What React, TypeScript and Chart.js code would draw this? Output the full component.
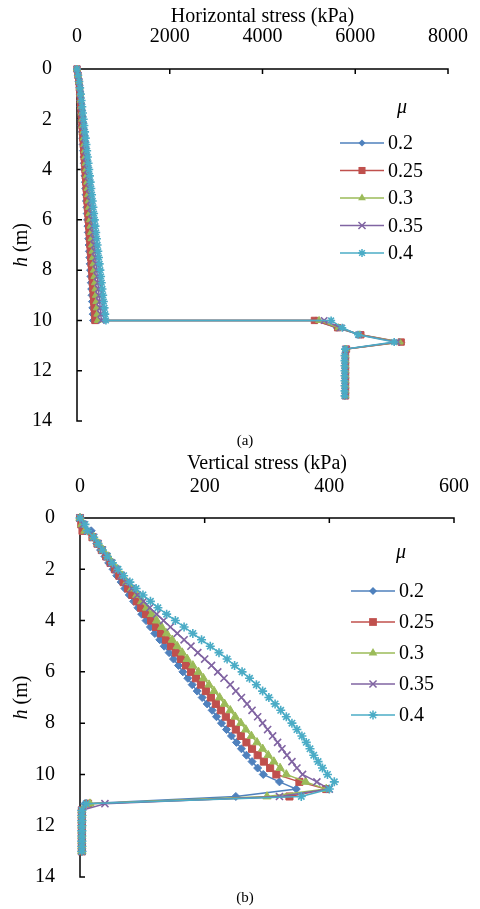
import React, { useEffect, useRef } from 'react';
import { Chart, registerables } from 'chart.js';

Chart.register(...registerables);

const FONT = "'Liberation Serif', 'Times New Roman', serif";

const seriesLabels = ['0.2', '0.25', '0.3', '0.35', '0.4'];
const seriesColors = ['#4F81BD', '#C0504D', '#9BBB59', '#8064A2', '#4BACC6'];
const seriesPointStyles = ['rectRot', 'rect', 'triangle', 'crossRot', 'star'];

// depth h (m)
const depthMain = [0, 0.25, 0.5, 0.75, 1, 1.25, 1.5, 1.75, 2, 2.25, 2.5, 2.75, 3, 3.25, 3.5, 3.75, 4, 4.25, 4.5, 4.75, 5, 5.25, 5.5, 5.75, 6, 6.25, 6.5, 6.75, 7, 7.25, 7.5, 7.75, 8, 8.25, 8.5, 8.75, 9, 9.25, 9.5, 9.75, 10];
const depthJump = [10];
const depthTail = [10.29, 10.57, 10.86, 11.14, 11.4, 11.6, 11.8, 12, 12.2, 12.4, 12.6, 12.8, 13];

// axis ticks
const horizTicks = [0, 2000, 4000, 6000, 8000];
const vertTicks = [0, 200, 400, 600];
const depthTicks = [0, 2, 4, 6, 8, 10, 12, 14];

// Horizontal stress (kPa), h = 0..10
const horizMain02 = [0, 18, 35, 48, 58, 66, 74, 82, 90, 98, 106, 114, 122, 130, 138, 146, 154, 162, 170, 178, 186, 194, 202, 210, 218, 226, 234, 242, 250, 258, 266, 274, 282, 290, 298, 306, 314, 322, 330, 338, 346];
const horizMain025 = [0, 20, 38, 52, 63, 72, 81, 90, 99, 108, 117, 126, 135, 144, 153, 162, 171, 180, 189, 198, 207, 216, 225, 234, 243, 252, 261, 270, 279, 288, 297, 306, 315, 324, 333, 342, 351, 360, 369, 378, 387];
const horizMain03 = [0, 22, 42, 57, 69, 80, 90, 101, 111, 122, 132, 143, 153, 164, 174, 185, 195, 206, 216, 227, 237, 248, 258, 269, 279, 290, 300, 311, 321, 332, 342, 353, 363, 374, 384, 395, 405, 416, 426, 437, 447];
const horizMain035 = [0, 24, 46, 62, 76, 88, 101, 113, 126, 138, 151, 163, 176, 188, 201, 213, 226, 238, 251, 263, 276, 288, 301, 313, 326, 338, 351, 363, 376, 388, 401, 413, 426, 438, 451, 463, 476, 488, 501, 513, 526];
const horizMain04 = [0, 26, 50, 68, 84, 99, 114, 129, 144, 159, 174, 189, 204, 219, 234, 249, 264, 279, 294, 309, 324, 339, 354, 369, 384, 399, 414, 429, 444, 459, 474, 489, 504, 519, 534, 549, 564, 579, 594, 609, 624];
// jump at h = 10, then tail
const horizTail02 = [5150, 5600, 6100, 6950, 5800, 5780, 5780, 5780, 5780, 5780, 5780, 5780, 5780, 5780];
const horizTail025 = [5120, 5620, 6120, 6990, 5810, 5790, 5790, 5790, 5790, 5790, 5790, 5790, 5790, 5790];
const horizTail03 = [5220, 5640, 6100, 6960, 5800, 5790, 5790, 5790, 5790, 5790, 5790, 5790, 5790, 5790];
const horizTail035 = [5330, 5680, 6080, 6900, 5790, 5780, 5780, 5780, 5780, 5780, 5780, 5780, 5780, 5780];
const horizTail04 = [5480, 5720, 6060, 6840, 5780, 5770, 5770, 5770, 5770, 5770, 5770, 5770, 5770, 5770];

// Vertical stress (kPa), h = 0..10
const vertMain02 = [0, 6, 18, 21, 27, 33, 40, 46, 53, 59, 66, 72, 79, 86, 93, 99, 106, 113, 120, 128, 135, 143, 150, 158, 165, 173, 180, 188, 196, 204, 212, 219, 227, 235, 243, 251, 259, 267, 276, 285, 294];
const vertMain025 = [0, 2, 4, 20, 28, 35, 42, 49, 56, 63, 70, 77, 84, 91, 98, 106, 114, 122, 130, 138, 146, 154, 162, 170, 178, 186, 194, 202, 210, 218, 226, 234, 242, 250, 258, 267, 276, 285, 295, 305, 315];
const vertMain03 = [0, 3, 8, 22, 30, 37, 45, 52, 60, 68, 75, 83, 91, 99, 107, 115, 123, 131, 139, 148, 156, 164, 172, 181, 190, 198, 207, 215, 224, 232, 241, 249, 258, 266, 275, 284, 293, 302, 311, 321, 331];
const vertMain035 = [0, 5, 12, 22, 29, 36, 43, 50, 58, 66, 74, 83, 92, 102, 112, 123, 134, 145, 156, 167, 178, 189, 200, 211, 221, 231, 241, 250, 259, 268, 276, 285, 293, 301, 309, 317, 324, 332, 340, 348, 357];
const vertMain04 = [0, 8, 12, 22, 29, 36, 44, 52, 61, 70, 80, 90, 101, 113, 125, 139, 153, 167, 181, 195, 209, 223, 236, 248, 260, 272, 283, 293, 303, 313, 322, 331, 340, 348, 356, 363, 369, 375, 382, 389, 397];
const vertTail02 = [320, 347, 250, 8, 3, 3, 3, 3, 3, 3, 3, 3, 3];
const vertTail025 = [352, 395, 336, 13, 3, 3, 3, 3, 3, 3, 3, 3, 3];
const vertTail03 = [362, 395, 300, 16, 3, 3, 3, 3, 3, 3, 3, 3, 3];
const vertTail035 = [380, 400, 320, 40, 3, 3, 3, 3, 3, 3, 3, 3, 3];
const vertTail04 = [408, 400, 355, 10, 3, 3, 3, 3, 3, 3, 3, 3, 3];

const horizDepth = [...depthMain, ...depthJump, ...depthTail];
const vertDepth = [...depthMain, ...depthTail];
const horizSeries = [
  [...horizMain02, ...horizTail02],
  [...horizMain025, ...horizTail025],
  [...horizMain03, ...horizTail03],
  [...horizMain035, ...horizTail035],
  [...horizMain04, ...horizTail04],
];
const vertSeries = [
  [...vertMain02, ...vertTail02],
  [...vertMain025, ...vertTail025],
  [...vertMain03, ...vertTail03],
  [...vertMain035, ...vertTail035],
  [...vertMain04, ...vertTail04],
];

function drawMarker(ctx: CanvasRenderingContext2D, style: string, x: number, y: number, r: number, color: string) {
  ctx.save();
  ctx.fillStyle = color;
  ctx.strokeStyle = color;
  ctx.lineWidth = 1.5;
  ctx.beginPath();
  if (style === 'rectRot') {
    ctx.moveTo(x, y - r); ctx.lineTo(x + r, y); ctx.lineTo(x, y + r); ctx.lineTo(x - r, y); ctx.closePath();
    ctx.fill();
  } else if (style === 'rect') {
    const s = r * Math.SQRT1_2;
    ctx.rect(x - s, y - s, 2 * s, 2 * s);
    ctx.fill();
  } else if (style === 'triangle') {
    const w = r * Math.sin(Math.PI / 3);
    ctx.moveTo(x, y - r); ctx.lineTo(x + w, y + r / 2); ctx.lineTo(x - w, y + r / 2); ctx.closePath();
    ctx.fill();
  } else if (style === 'crossRot') {
    const s = r * Math.SQRT1_2;
    ctx.moveTo(x - s, y - s); ctx.lineTo(x + s, y + s);
    ctx.moveTo(x + s, y - s); ctx.lineTo(x - s, y + s);
    ctx.stroke();
  } else if (style === 'star') {
    const s = r * Math.SQRT1_2;
    ctx.moveTo(x - s, y - s); ctx.lineTo(x + s, y + s);
    ctx.moveTo(x + s, y - s); ctx.lineTo(x - s, y + s);
    ctx.moveTo(x, y - r); ctx.lineTo(x, y + r);
    ctx.moveTo(x - r, y); ctx.lineTo(x + r, y);
    ctx.stroke();
  }
  ctx.restore();
}

type PanelCfg = {
  title: string;
  xMax: number;
  xStep: number;
  depth: number[];
  series: number[][];
  height: number;
  yWidth: number;
  xHeight: number;
  padRight: number;
  padBottom: number;
  titlePadTop: number;
  xTickPad: number;
  yTickPad: number;
  radii: number[];
  legend: { lineX0: number; lineX1: number; textX: number; muY: number; muX: number; rows: number[]; radii: number[] };
  tag: string;
  tagY: number;
};

const panelA: PanelCfg = {
  title: 'Horizontal stress (kPa)',
  xMax: horizTicks[horizTicks.length - 1],
  xStep: horizTicks[1] - horizTicks[0],
  depth: horizDepth,
  series: horizSeries,
  height: 450,
  yWidth: 77,
  xHeight: 69,
  padRight: 27,
  padBottom: 29,
  titlePadTop: 5,
  xTickPad: 12,
  yTickPad: 17,
  radii: [3.5, 4.5, 4, 4.5, 4],
  legend: { lineX0: 340, lineX1: 384, textX: 388, muY: 108, muX: 402, rows: [143, 170.5, 198, 225.5, 253], radii: [3.5, 5, 4.5, 5, 4] },
  tag: '(a)',
  tagY: 441,
};

const panelB: PanelCfg = {
  title: 'Vertical stress (kPa)',
  xMax: vertTicks[vertTicks.length - 1],
  xStep: vertTicks[1] - vertTicks[0],
  depth: vertDepth,
  series: vertSeries,
  height: 459,
  yWidth: 80,
  xHeight: 68,
  padRight: 25,
  padBottom: 32,
  titlePadTop: 2,
  xTickPad: 11,
  yTickPad: 17,
  radii: [4, 5, 4.8, 5, 4.5],
  legend: { lineX0: 351, lineX1: 395, textX: 399, muY: 103, muX: 401, rows: [141, 172, 203, 234, 265], radii: [4, 5.5, 5, 5, 4.5] },
  tag: '(b)',
  tagY: 448,
};

function makeChart(canvas: HTMLCanvasElement, cfg: PanelCfg) {
  const datasets = cfg.series.map((vals, i) => ({
    label: seriesLabels[i],
    data: cfg.depth.map((h, k) => ({ x: vals[k], y: h })),
    showLine: true,
    borderColor: seriesColors[i],
    backgroundColor: seriesColors[i],
    borderWidth: 1.5,
    pointStyle: seriesPointStyles[i],
    pointRadius: cfg.radii[i],
    pointBorderWidth: i >= 3 ? 1.6 : 1,
    pointBackgroundColor: seriesColors[i],
    pointBorderColor: seriesColors[i],
    tension: 0,
    fill: false,
    clip: false as any,
    order: 4 - i,
  }));

  const axesPlugin = {
    id: 'axesPlugin',
    beforeDatasetsDraw(chart: any) {
      const { ctx, chartArea } = chart;
      const { left, right, top, bottom } = chartArea;
      const xs = chart.scales.x;
      const ys = chart.scales.y;
      ctx.save();
      ctx.strokeStyle = '#000';
      ctx.lineWidth = 1.5;
      ctx.beginPath();
      ctx.moveTo(left, top); ctx.lineTo(right + 0.75, top);
      ctx.moveTo(left, top - 0.75); ctx.lineTo(left, bottom + 0.75);
      xs.ticks.forEach((t: any) => {
        const px = xs.getPixelForValue(t.value);
        ctx.moveTo(px, top); ctx.lineTo(px, top + 5);
      });
      ys.ticks.forEach((t: any) => {
        const py = ys.getPixelForValue(t.value);
        ctx.moveTo(left, py); ctx.lineTo(left + 5, py);
      });
      ctx.stroke();
      ctx.restore();
    },
    afterDraw(chart: any) {
      const { ctx, chartArea } = chart;
      const cy = (chartArea.top + chartArea.bottom) / 2;
      ctx.save();
      ctx.fillStyle = '#000';
      // y-axis title
      ctx.translate(22, cy);
      ctx.rotate(-Math.PI / 2);
      ctx.textBaseline = 'middle';
      ctx.textAlign = 'left';
      ctx.font = `italic 20px ${FONT}`;
      const w1 = ctx.measureText('h').width;
      ctx.font = `20px ${FONT}`;
      const w2 = ctx.measureText(' (m)').width;
      const x0 = -(w1 + w2) / 2;
      ctx.font = `italic 20px ${FONT}`;
      ctx.fillText('h', x0, 0);
      ctx.font = `20px ${FONT}`;
      ctx.fillText(' (m)', x0 + w1, 0);
      ctx.restore();

      // legend
      const lg = cfg.legend;
      ctx.save();
      ctx.fillStyle = '#000';
      ctx.textBaseline = 'middle';
      ctx.textAlign = 'center';
      ctx.font = `italic 20px ${FONT}`;
      ctx.fillText('\u03bc', lg.muX, lg.muY);
      ctx.textAlign = 'left';
      ctx.font = `20px ${FONT}`;
      lg.rows.forEach((ry, i) => {
        ctx.strokeStyle = seriesColors[i];
        ctx.lineWidth = 1.5;
        ctx.beginPath();
        ctx.moveTo(lg.lineX0, ry); ctx.lineTo(lg.lineX1, ry);
        ctx.stroke();
        drawMarker(ctx, seriesPointStyles[i], (lg.lineX0 + lg.lineX1) / 2, ry, lg.radii[i], seriesColors[i]);
        ctx.fillStyle = '#000';
        ctx.fillText(seriesLabels[i], lg.textX, ry + 1);
      });
      // panel tag
      ctx.textAlign = 'center';
      ctx.font = `15px ${FONT}`;
      ctx.fillText(cfg.tag, 245, cfg.tagY);
      ctx.restore();
    },
  };

  return new Chart(canvas, {
    type: 'scatter',
    data: { datasets: datasets as any },
    options: {
      responsive: false,
      animation: false,
      events: [],
      layout: { padding: { left: 0, top: 0, right: cfg.padRight, bottom: cfg.padBottom } },
      plugins: { legend: { display: false }, tooltip: { enabled: false } },
      scales: {
        x: {
          type: 'linear',
          position: 'top',
          min: 0,
          max: cfg.xMax,
          grid: { display: false },
          border: { display: false },
          ticks: {
            stepSize: cfg.xStep,
            padding: cfg.xTickPad,
            color: '#000',
            font: { family: FONT, size: 20 },
            maxRotation: 0,
            callback: (v: any) => String(v),
          },
          title: { display: true, text: cfg.title, color: '#000', font: { family: FONT, size: 20 }, padding: { top: cfg.titlePadTop, bottom: 0 } },
          afterFit: (scale: any) => { scale.height = cfg.xHeight; },
        },
        y: {
          type: 'linear',
          position: 'left',
          reverse: true,
          min: depthTicks[0],
          max: depthTicks[depthTicks.length - 1],
          grid: { display: false },
          border: { display: false },
          ticks: {
            stepSize: depthTicks[1] - depthTicks[0],
            padding: cfg.yTickPad,
            color: '#000',
            font: { family: FONT, size: 20 },
            callback: (v: any) => String(v),
          },
          afterFit: (scale: any) => { scale.width = cfg.yWidth; },
        },
      },
    } as any,
    plugins: [axesPlugin],
  });
}

export default function App() {
  const refA = useRef<HTMLCanvasElement | null>(null);
  const refB = useRef<HTMLCanvasElement | null>(null);

  useEffect(() => {
    const a = refA.current ? makeChart(refA.current, panelA) : null;
    const b = refB.current ? makeChart(refB.current, panelB) : null;
    return () => {
      a?.destroy();
      b?.destroy();
    };
  }, []);

  return (
    <div style={{ position: 'absolute', left: 0, top: 0, width: 480, height: 909, background: '#fff' }}>
      <canvas ref={refA} width={480} height={panelA.height} style={{ position: 'absolute', left: 0, top: 0 }} />
      <canvas ref={refB} width={480} height={panelB.height} style={{ position: 'absolute', left: 0, top: 450 }} />
    </div>
  );
}
